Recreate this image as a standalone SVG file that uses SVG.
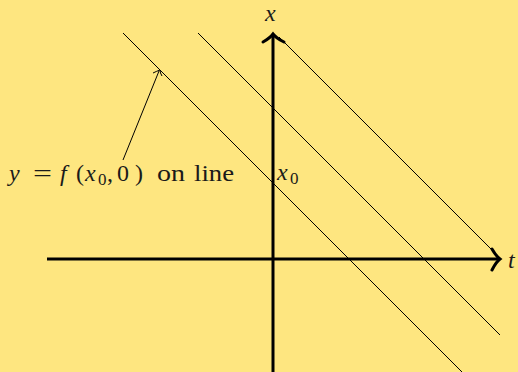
<svg xmlns="http://www.w3.org/2000/svg" width="518" height="372" viewBox="0 0 518 372">
<style>
.ax{stroke:#000;stroke-width:3;fill:none}
.ln{stroke:#000;stroke-width:1;fill:none}
.hd{stroke:#000;stroke-width:3;fill:none;stroke-linecap:round}
.t{font-family:"Liberation Serif",serif;font-size:24px;fill:#1a1a1a}
.m{font-style:italic}
.s{font-size:17px}
</style>
<rect width="518" height="372" fill="#FEE680"/>
<g id="connectors">
<line class="ln" x1="123" y1="33" x2="462" y2="372"/>
<line class="ln" x1="198" y1="33" x2="500" y2="335"/>
<line class="ln" x1="279" y1="37" x2="491" y2="249"/>
<line class="ln" x1="123" y1="160" x2="159" y2="71"/>
<path class="ln" d="M153,73 Q157,71 160,70 Q160,73 162,76"/>
</g>
<g id="t-axis">
<line class="ax" x1="47" y1="259" x2="499" y2="259"/>
<path class="hd" d="M492,249 Q496,256 500,259 Q496,262 492,270"/>
<text class="t m" x="508" y="268">t</text>
</g>
<g id="x-axis">
<line class="ax" x1="273" y1="372" x2="273" y2="35"/>
<path class="hd" d="M263,42 Q270,38 273,34 Q276,38 284,42"/>
<text class="t m" x="265" y="21">x</text>
</g>
<g id="label-x0">
<text class="t m" x="277" y="180">x</text>
<text class="t s" x="290" y="184">0</text>
</g>
<g id="label-line">
<text class="t m" x="9" y="181">y</text>
<text class="t" x="33" y="181" textLength="19" lengthAdjust="spacingAndGlyphs">=</text>
<text class="t m" x="60" y="181">f</text>
<text class="t" x="76" y="181">(</text>
<text class="t m" x="85" y="181">x</text>
<text class="t s" x="98" y="185">0</text>
<text class="t" x="107" y="181">,</text>
<text class="t" x="117" y="181">0</text>
<text class="t" x="135" y="181">)</text>
<text class="t" x="157" y="181" textLength="28" lengthAdjust="spacingAndGlyphs">on</text>
<text class="t" x="194" y="181" textLength="40" lengthAdjust="spacingAndGlyphs">line</text>
</g>
</svg>
